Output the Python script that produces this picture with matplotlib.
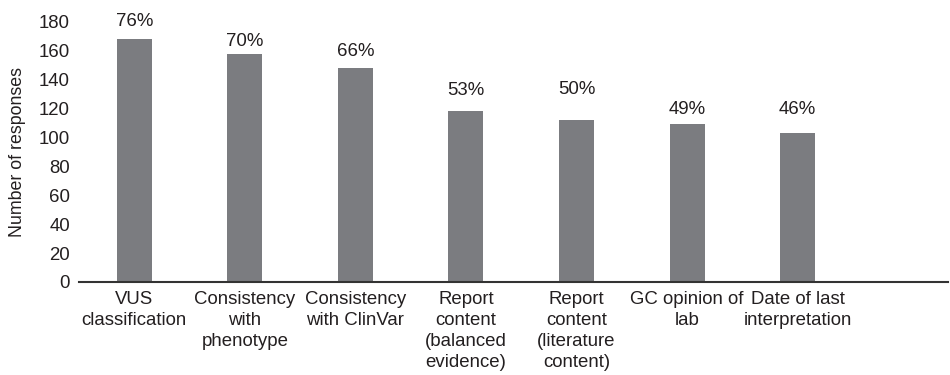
import matplotlib
matplotlib.use("Agg")
import matplotlib.pyplot as plt

plt.rcParams['font.family'] = ['Liberation Sans', 'DejaVu Sans']

categories = [
    "VUS\nclassification",
    "Consistency\nwith\nphenotype",
    "Consistency\nwith ClinVar",
    "Report\ncontent\n(balanced\nevidence)",
    "Report\ncontent\n(literature\ncontent)",
    "GC opinion of\nlab",
    "Date of last\ninterpretation",
]
responses = [168, 158, 148, 118.5, 112.5, 109.5, 103.5]
percent_labels = ["76%", "70%", "66%", "53%", "50%", "49%", "46%"]
yticks = [0, 20, 40, 60, 80, 100, 120, 140, 160, 180]

# label gaps above bars (pixels), style only
label_gap_px = [13, 8, 12, 16, 25, 10, 19]

text_color = "#231f20"
bar_color = "#7b7c80"
fs = 13.4

fig = plt.figure(figsize=(9.5, 3.75), dpi=100)
ax = fig.add_axes([79/950, (375-282)/375, (948-79)/950, 260/375])

x = list(range(len(categories)))
bars = ax.bar(x, responses, width=0.317, color=bar_color, zorder=2)

for xi, v, lab, gap in zip(x, responses, percent_labels, label_gap_px):
    ax.annotate(lab, xy=(xi, v), xytext=(0, gap), textcoords='offset pixels',
                ha='center', va='baseline', fontsize=fs, color=text_color,
                annotation_clip=False)

ax.set_xlim(-0.5, 7.36)
ax.set_ylim(0, 180)
ax.set_yticks(yticks)
ax.set_yticklabels([str(t) for t in yticks])
ax.set_xticks(x)
ax.set_xticklabels(categories, linespacing=1.3)

for s in ['top', 'right', 'left']:
    ax.spines[s].set_visible(False)
ax.spines['bottom'].set_color('#333333')
ax.spines['bottom'].set_linewidth(1.5)

ax.tick_params(axis='both', length=0, labelsize=fs, colors=text_color)
ax.tick_params(axis='y', pad=6.5)
ax.tick_params(axis='x', pad=6.5)

ax.set_ylabel("Number of responses", fontsize=12.8, color=text_color)
ax.yaxis.set_label_coords(-0.061, 0.5)

fig.savefig("out.png", dpi=100)
